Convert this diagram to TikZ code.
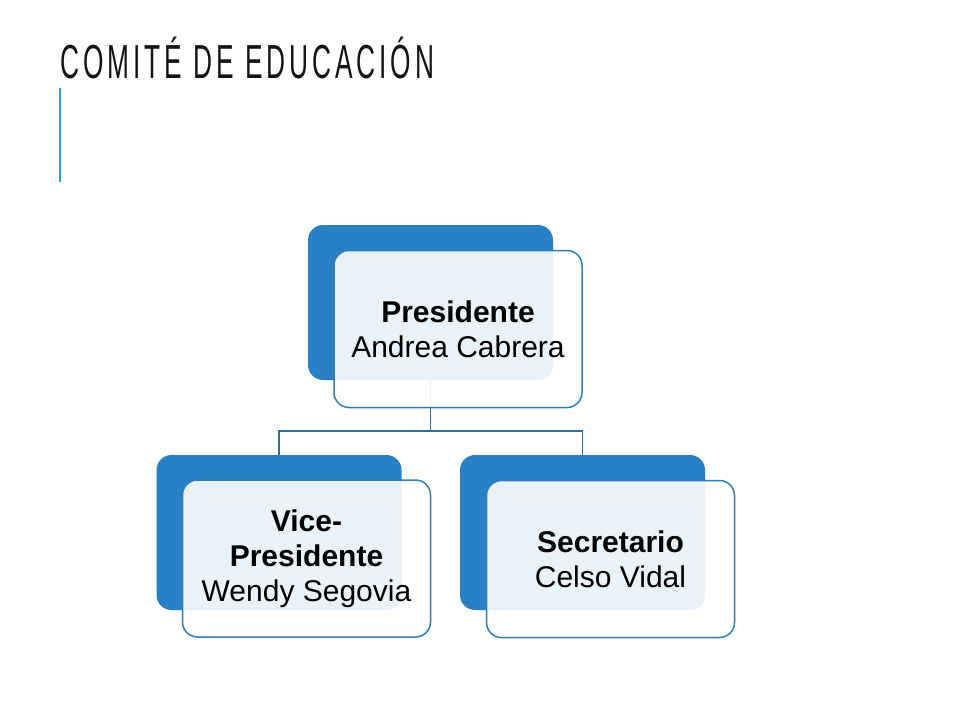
\documentclass[tikz,border=0pt]{standalone}
\usepackage{fontspec}
\setmainfont{Liberation Sans}
\newfontfamily\titlefont[LetterSpace=15]{Liberation Sans}
\definecolor{darkbox}{HTML}{2A80C4}
\definecolor{frontline}{HTML}{2F7DB9}
\definecolor{connline}{HTML}{2D6FA3}
\definecolor{accent}{HTML}{3A9BC9}
\definecolor{titlecol}{HTML}{141414}
\tikzset{
  backbox/.style={fill=darkbox, rounded corners=15pt, inner sep=0pt,
    minimum width=245pt, minimum height=155pt},
  frontbox/.style={draw=frontline, line width=1.5pt, fill=white, fill opacity=0.9,
    rounded corners=15pt, inner sep=0pt, minimum width=248pt, minimum height=157pt},
  boxtext/.style={align=center, inner sep=0pt, text=black,
    font=\fontsize{30}{35}\selectfont},
  conn/.style={draw=connline, line width=1.8pt},
}
\begin{document}
\begin{tikzpicture}[x=1pt, y=-1pt]
\useasboundingbox (0,0) rectangle (960,720);
\fill[white] (0,0) rectangle (960,720);
% title
\node[anchor=base west, inner sep=0pt, text=titlecol] (title) at (60,78)
  {\resizebox{374pt}{!}{\scalebox{0.55}[1]{\titlefont\fontsize{46}{46}\selectfont COMITÉ DE EDUCACIÓN}}};
\coordinate (acctop) at (60,88);
\coordinate (accbot) at (60,182);
\draw[accent, line width=2pt] (acctop) -- (accbot);
% back boxes
\node[backbox] (pd) at (430.5,302.5) {};
\node[backbox] (vd) at (279,532.5) {};
\node[backbox] (sd) at (582.5,532.5) {};
% connectors
\draw[conn] (pd.south) -- ++(0,51) coordinate (hub) -| (vd.north);
\draw[conn] (hub) -| (sd.north);
% front boxes
\node[frontbox] (pf) at (458,329) {};
\node[frontbox] (vf) at (306.5,558.5) {};
\node[frontbox] (sf) at (610.5,559) {};
% texts
\node[boxtext] (pt) at (pf.center) {\textbf{Presidente}\\Andrea Cabrera};
\node[boxtext] (vt) at (vf.center) {\textbf{Vice-}\\\textbf{Presidente}\\Wendy Segovia};
\node[boxtext] (st) at (sf.center) {\textbf{Secretario}\\Celso Vidal};
\end{tikzpicture}
\end{document}
